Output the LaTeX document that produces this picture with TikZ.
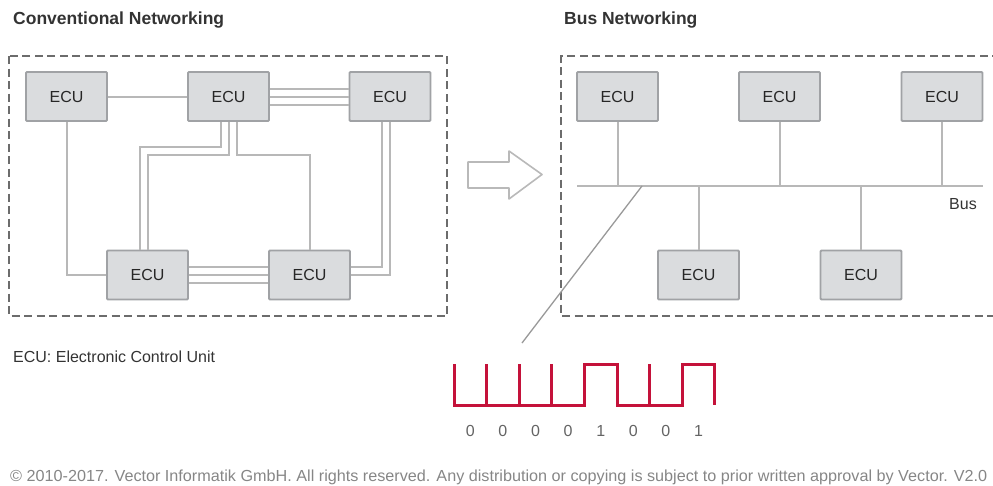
\documentclass[tikz,border=0pt]{standalone}
\usepackage{fontspec}
\setmainfont{Liberation Sans}
\usepackage{graphicx}
\usepackage{tikz}
\usetikzlibrary{positioning,calc}
\definecolor{BoxFill}{RGB}{218,220,222}
\definecolor{BoxLine}{RGB}{160,162,165}
\definecolor{WireGray}{RGB}{184,184,184}
\definecolor{FrameGray}{RGB}{108,108,108}
\definecolor{SignalRed}{RGB}{196,18,58}
\definecolor{TextGray}{RGB}{100,100,100}

\begin{document}
\begin{tikzpicture}[x=1pt, y=-1pt, font=\fontsize{16}{19}\selectfont, every node/.style={align=center}]
\tikzset{
  ecu/.style={draw=BoxLine, fill=BoxFill, line width=1.8pt, rounded corners=1pt,
    minimum width=81pt, minimum height=49pt, inner sep=0pt, text=black!85},
  wire/.style={draw=WireGray, line width=2pt},
  frame/.style={draw=FrameGray, line width=2.4pt, dash pattern=on 8pt off 4.5pt},
  title/.style={font=\bfseries\fontsize{17.5}{20}\selectfont, text=black!80, anchor=west, inner sep=0pt},
  signal/.style={draw=SignalRed, line width=3pt},
  bit/.style={text=TextGray, inner sep=0pt}
}
  \useasboundingbox (0,0) rectangle (993,485);
  \clip (0,0) rectangle (993,485);
  \def\bw{32.6}
  \def\hi{364}
  \def\lo{405}

  % titles
  \node[title] (convtitle) at (13,20) {Conventional Networking};
  \node[title] (bustitle) at (564,20) {Bus Networking};

  % conventional networking
  \draw[frame] (9,56) rectangle (447,316);
  \node[ecu] (e1) at (66.5,96.5) {ECU};
  \node[ecu] (e2) at (228.5,96.5) {ECU};
  \node[ecu] (e3) at (390,96.5) {ECU};
  \node[ecu] (e4) at (147.5,275) {ECU};
  \node[ecu] (e5) at (309.5,275) {ECU};
  \draw[wire] (e1.east) -- (e2.west);
  \draw[wire] (e1.south) |- (e4.west);
  \foreach \o in {-8,0,8} {
    \draw[wire] ($(e2.east)+(0,\o)$) -- ($(e3.west)+(0,\o)$);
    \draw[wire] ($(e4.east)+(0,\o)$) -- ($(e5.west)+(0,\o)$);
  }
  \draw[wire] ($(e2.south)+(-8,0)$) -- ++(0,25) -| ($(e4.north)+(-8,0)$);
  \draw[wire] (e2.south) -- ++(0,33) -| (e4.north);
  \draw[wire] ($(e2.south)+(8,0)$) -- ++(0,33) -| (e5.north);
  \draw[wire] ($(e3.south)+(-8,0)$) |- ($(e5.east)+(0,-8)$);
  \draw[wire] (e3.south) |- (e5.east);

  % arrow
  \draw[draw=gray!55, line width=1.6pt, fill=white, line join=round]
    (468,162) -- (509,162) -- (509,151) -- (542,174.5) -- (509,199) -- (509,188) -- (468,188) -- cycle;

  % bus networking
  \draw[frame] (1000,56) -| (561,316) -- (1000,316);
  \node[ecu] (r1) at (617.5,96.5) {ECU};
  \node[ecu] (r2) at (779.5,96.5) {ECU};
  \node[ecu] (r3) at (942,96.5) {ECU};
  \node[ecu] (r4) at (698.5,275) {ECU};
  \node[ecu] (r5) at (861,275) {ECU};
  \coordinate (busL) at (577,186);
  \coordinate (busR) at (983,186);
  \draw[wire, line width=2.4pt] (busL) -- (busR);
  \foreach \n in {r1,r2,r3}
    \draw[wire] (\n.south) -- (\n.south |- busL);
  \foreach \n in {r4,r5}
    \draw[wire] (\n.north) -- (\n.north |- busL);
  \node[text=black!80] (buslabel) at (963,204) {Bus};

  % tap to signal
  \coordinate (tap) at (642,186);
  \coordinate (probe) at (522,343);
  \draw[draw=gray!80, line width=1.3pt] (tap) -- (probe);

  % signal
  \draw[signal, line join=miter] (454,\hi) -- (454,\lo) -- ({454+4*\bw},\lo) -- ({454+4*\bw},\hi)
    -- ({454+5*\bw},\hi) -- ({454+5*\bw},\lo) -- ({454+7*\bw},\lo) -- ({454+7*\bw},\hi)
    -- ({454+8*\bw},\hi) -- ({454+8*\bw},\lo);
  \foreach \k in {1,2,3,6}
    \draw[signal] ({454+\k*\bw},\lo) -- ({454+\k*\bw},\hi);
  \foreach \b [count=\i] in {0,0,0,0,1,0,0,1}
    \node[bit] (b\i) at ({454+\i*\bw-\bw/2},431) {\b};

  % notes
  \node[anchor=west, inner sep=0pt, text=black!80] (legend) at (13,357) {ECU: Electronic Control Unit};
  \node[anchor=west, inner sep=0pt, text=gray!95, font=\fontsize{16}{19}\selectfont] (copyright) at (10,477)
    {\resizebox{977pt}{\height}{\textcopyright{} 2010-2017. Vector Informatik GmbH. All rights reserved. Any distribution or copying is subject to prior written approval by Vector. V2.0}};
\end{tikzpicture}
\end{document}
